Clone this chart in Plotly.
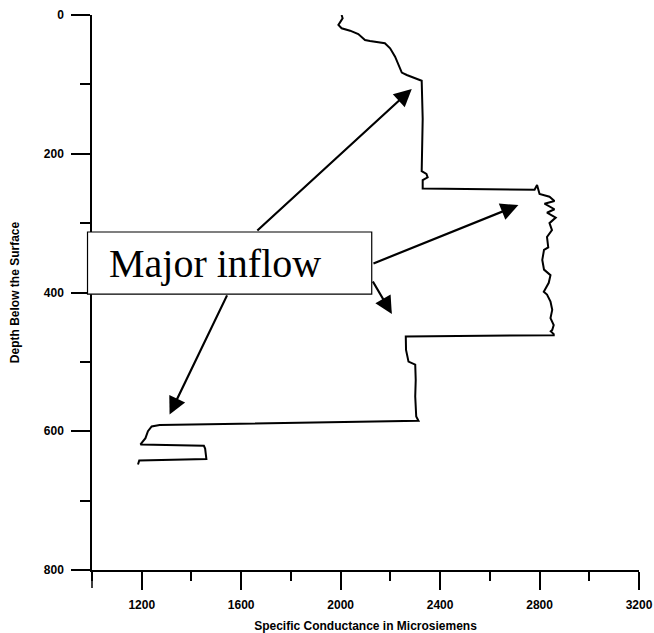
import plotly.graph_objects as go

# Profile: specific conductance (microsiemens) vs depth
conductance = [2004, 2008, 1991, 2004, 2038, 2071, 2098, 2118, 2178, 2199, 2219, 2232, 2246, 2266, 2326,
               2330, 2328, 2326, 2345, 2350, 2330, 2330,
               2780, 2790, 2800, 2840, 2860, 2820, 2860, 2830, 2865, 2840, 2850, 2830, 2835,
               2818, 2811, 2818, 2844, 2837, 2817, 2830, 2844, 2851, 2844, 2857, 2851, 2845, 2857, 2857,
               2262, 2263, 2273, 2300, 2302, 2300, 2304, 2313, 2313,
               1272, 1240, 1225, 1215, 1195, 1450, 1455, 1460, 1190, 1185]
depth = [0, 4.8, 14.4, 19.2, 22.6, 27.4, 36, 37.5, 40.8, 48, 60, 72, 83, 86.5, 94.7,
         150, 200, 225, 229, 234, 238, 250,
         252, 245, 258, 262, 268, 272, 280, 285, 292, 300, 310, 320, 335,
         338.6, 353, 367, 375, 386, 399, 403, 413, 425, 437, 447, 454, 456, 460, 461.5,
         463.5, 482.7, 499.6, 504, 526, 550, 578.8, 583.6, 585,
         591, 593, 600, 610, 619, 621, 625, 640, 642, 648]

x_ticks = [1200, 1600, 2000, 2400, 2800, 3200]
y_ticks = [0, 200, 400, 600, 800]

# Arrows: (tip conductance, tip depth, tail conductance, tail depth)
arrow_tip_x = [2286, 1312, 2715, 2206]
arrow_tip_y = [106.6, 576, 274, 431]
arrow_tail_x = [1659, 1546, 2126, 2126]
arrow_tail_y = [312.7, 402, 359, 382]

label_text = "Major inflow"

fig = go.Figure()
fig.add_trace(go.Scatter(x=conductance, y=depth, mode="lines",
                         line=dict(color="black", width=2), hoverinfo="skip",
                         showlegend=False))

tickfont = dict(family="Liberation Sans, Arial, sans-serif", size=12, color="black", weight="bold")

fig.update_layout(
    width=654, height=633, autosize=False,
    margin=dict(l=92, r=15, t=15, b=63, pad=0),
    paper_bgcolor="white", plot_bgcolor="white",
    font=dict(family="Liberation Sans, Arial, sans-serif", color="black"),
    xaxis=dict(range=[1000, 3200], tickmode="array", tickvals=x_ticks,
               ticktext=[str(v) for v in x_ticks], automargin=False,
               ticks="outside", ticklen=18, tickwidth=1.5, tickcolor="black",
               ticklabelstandoff=5,
               minor=dict(ticks="outside", ticklen=9, tickwidth=1.5, tickcolor="black",
                          dtick=200, tick0=1000, showgrid=False),
               showline=True, linecolor="black", linewidth=1.5,
               showgrid=False, zeroline=False, tickfont=tickfont,
               title=dict(text="Specific Conductance in Microsiemens",
                          font=dict(family="Liberation Sans, Arial, sans-serif", size=12,
                                    color="black", weight="bold"),
                          standoff=10)),
    yaxis=dict(range=[800, 0], tickmode="array", tickvals=y_ticks,
               ticktext=[str(v) for v in y_ticks], automargin=False,
               ticks="outside", ticklen=19, tickwidth=1.5, tickcolor="black",
               ticklabelstandoff=5,
               minor=dict(ticks="outside", ticklen=10, tickwidth=1.5, tickcolor="black",
                          dtick=100, tick0=0, showgrid=False),
               showline=True, linecolor="black", linewidth=1.5,
               showgrid=False, zeroline=False, tickfont=tickfont,
               title=dict(text="Depth Below the Surface",
                          font=dict(family="Liberation Sans, Arial, sans-serif", size=12,
                                    color="black", weight="bold"),
                          standoff=22)),
)

# extension of the axis below the origin
fig.add_shape(type="line", xref="paper", yref="paper", x0=0, x1=0, y0=0, y1=-18/555,
              line=dict(color="black", width=1.5))

# label box
fig.add_shape(type="rect", xref="paper", yref="paper",
              x0=-0.0082, x1=0.5114, y0=0.497, y1=0.609,
              fillcolor="white", line=dict(color="black", width=1.2), layer="above")

for tx, ty, ax_, ay_ in zip(arrow_tip_x, arrow_tip_y, arrow_tail_x, arrow_tail_y):
    fig.add_annotation(x=tx, y=ty, ax=ax_, ay=ay_, xref="x", yref="y", axref="x", ayref="y",
                       showarrow=True, arrowhead=2, arrowsize=1.6, arrowwidth=2.2,
                       arrowcolor="black", text="")

fig.add_annotation(x=0.028, y=0.553, xref="paper", yref="paper", xanchor="left", yanchor="middle",
                   text=label_text, showarrow=False,
                   font=dict(family="Liberation Serif, Times New Roman, serif", size=40, color="black"))

fig.write_html("out.html", config={"displayModeBar": False},
               post_script="document.body.style.margin='0px';")
